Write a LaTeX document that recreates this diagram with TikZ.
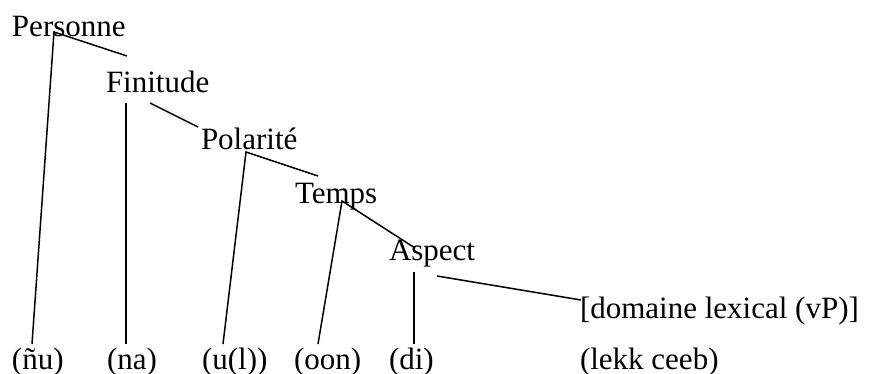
\documentclass[tikz,border=0pt]{standalone}
\usepackage{fontspec}
\setmainfont{Liberation Serif}
\begin{document}
\begin{tikzpicture}[x=1pt,y=-1pt,
  lbl/.style={anchor=base west,inner sep=0pt,outer sep=0pt,font=\fontsize{31}{31}\selectfont},
  branch/.style={line width=1.5pt,line cap=butt}]
\useasboundingbox (0,0) rectangle (869,374);
% category labels
\node[lbl] (per) at (12,37) {Personne};
\node[lbl] (fin) at (106,93) {Finitude};
\node[lbl] (pol) at (201,150) {Polarité};
\node[lbl] (tem) at (295,204) {Temps};
\node[lbl] (asp) at (389,260) {Aspect};
\node[lbl] (dom) at (580,318) {[domaine lexical (vP)]};
% morphemes
\node[lbl] (nu) at (12,369) {(ñu)};
\node[lbl] (na) at (107,369) {(na)};
\node[lbl] (ul) at (202,369) {(u(l))};
\node[lbl] (oon) at (294,369) {(oon)};
\node[lbl] (di) at (389,369) {(di)};
\node[lbl] (lek) at (580,369) {(lekk ceeb)};
% attachment points
\coordinate (perA) at (54,32);
\coordinate (finT) at (127,56);
\coordinate (finV) at (126,103);
\coordinate (finD) at (150,103);
\coordinate (polT) at (198,127);
\coordinate (polA) at (246,152);
\coordinate (temT) at (318,176);
\coordinate (temA) at (342,201);
\coordinate (aspT) at (415,248);
\coordinate (aspV) at (414,272);
\coordinate (aspD) at (437,276);
\coordinate (domT) at (581,300);
\coordinate (nuT) at (32,344);
\coordinate (naT) at (126,344);
\coordinate (ulT) at (223,344);
\coordinate (oonT) at (318,344);
\coordinate (diT) at (414,344);
% branches
\draw[branch] (nuT) -- (perA) -- (finT);
\draw[branch] (finV) -- (naT);
\draw[branch] (finD) -- (polT);
\draw[branch] (ulT) -- (polA) -- (temT);
\draw[branch] (oonT) -- (temA) -- (aspT);
\draw[branch] (aspV) -- (diT);
\draw[branch] (aspD) -- (domT);
\end{tikzpicture}
\end{document}
